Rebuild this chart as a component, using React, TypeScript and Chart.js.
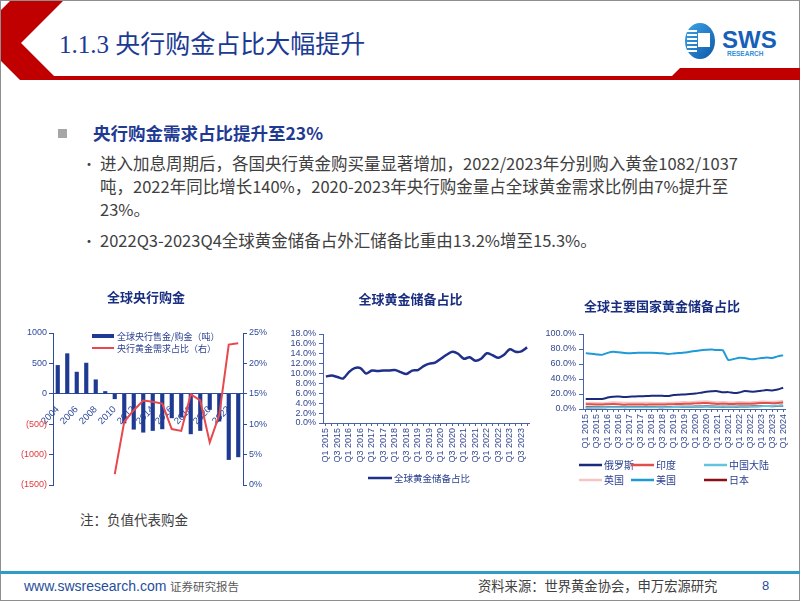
import React, { useEffect, useRef } from 'react';
import { Chart, registerables } from 'chart.js';

Chart.register(...registerables);

const FONT_CJK = '"Noto Sans CJK SC", "Liberation Sans", sans-serif';
const FONT_AX = '"Liberation Sans", "Noto Sans CJK SC", sans-serif';

// ---------- Chart 1: 全球央行购金 ----------
const years = ['2004', '2005', '2006', '2007', '2008', '2009', '2010', '2011', '2012', '2013', '2014', '2015', '2016', '2017', '2018', '2019', '2020', '2021', '2022', '2023'];
const cbNetSalesTonnes = [467, 660, 357, 505, 231, 38, -82, -481, -583, -632, -604, -577, -396, -385, -659, -604, -258, -450, -1082, -1037];
const cbShareOfDemand = [null, null, null, null, null, null, 0.018, 0.104, 0.123, 0.139, 0.137, 0.134, 0.092, 0.089, 0.149, 0.139, 0.07, 0.115, 0.231, 0.233];

// ---------- Chart 2: 全球黄金储备占比 ----------
function quarterLabels(startYear: number, count: number) {
  const out: string[] = [];
  for (let i = 0; i < count; i++) out.push(`Q${(i % 4) + 1} ${startYear + Math.floor(i / 4)}`);
  return out;
}
const quarters2 = quarterLabels(2015, 36); // Q1 2015 .. Q4 2023
const goldShareOfReserves = [9.4, 9.6, 9.3, 9.0, 10.3, 11.1, 11.1, 10.0, 10.6, 10.5, 10.6, 10.6, 10.7, 10.3, 9.9, 10.6, 10.7, 11.5, 12.0, 12.2, 13.0, 13.8, 14.4, 14.0, 13.0, 13.3, 12.6, 13.0, 14.1, 13.7, 13.2, 13.8, 14.9, 14.4, 14.5, 15.3];

// ---------- Chart 3: 全球主要国家黄金储备占比 ----------
const quarters3 = quarterLabels(2015, 37); // Q1 2015 .. Q1 2024
const russia = [13.3, 13.2, 13.2, 13.3, 15.2, 16.4, 16.6, 16.0, 16.3, 16.8, 16.9, 17.2, 17.6, 17.8, 17.6, 17.3, 18.6, 19.0, 19.4, 19.9, 20.6, 21.8, 23.0, 23.6, 23.8, 22.2, 22.5, 21.3, 22.0, 24.0, 23.2, 23.3, 24.3, 25.2, 24.8, 25.9, 28.4];
const india = [6.2, 6.3, 6.1, 5.9, 6.4, 6.6, 6.4, 5.8, 5.9, 6.0, 5.9, 5.8, 5.9, 6.0, 6.0, 6.2, 6.4, 6.7, 6.9, 7.0, 7.5, 7.8, 8.1, 7.3, 6.7, 7.0, 6.8, 6.7, 7.1, 7.1, 7.0, 7.4, 7.9, 7.9, 7.8, 8.1, 8.6];
const chinaMainland = [1.7, 1.8, 2.0, 2.2, 2.3, 2.4, 2.4, 2.3, 2.3, 2.3, 2.3, 2.3, 2.3, 2.3, 2.3, 2.4, 2.6, 2.8, 2.9, 2.9, 3.2, 3.3, 3.5, 3.3, 3.1, 3.2, 3.1, 3.1, 3.3, 3.3, 3.4, 3.5, 3.8, 4.0, 4.1, 4.3, 4.6];
const uk = [8.0, 8.2, 8.0, 7.7, 8.4, 8.9, 8.8, 8.2, 8.2, 8.3, 8.3, 8.2, 8.2, 8.1, 7.9, 8.3, 8.5, 8.8, 9.2, 9.1, 9.7, 10.0, 10.3, 9.6, 9.0, 9.2, 8.8, 8.8, 9.3, 9.0, 8.8, 9.3, 9.9, 9.8, 9.7, 10.1, 10.6];
const usa = [74.5, 73.6, 72.8, 72.2, 74.8, 76.3, 75.6, 74.6, 74.4, 74.8, 75.0, 75.0, 75.1, 74.8, 74.2, 73.4, 74.0, 74.6, 75.2, 76.3, 77.4, 78.4, 78.9, 79.2, 78.6, 78.2, 65.3, 66.6, 68.3, 68.0, 66.5, 66.8, 67.9, 68.8, 68.1, 70.2, 71.5];
const japan = [2.4, 2.4, 2.3, 2.3, 2.6, 2.8, 2.7, 2.5, 2.6, 2.6, 2.6, 2.6, 2.6, 2.5, 2.5, 2.6, 2.8, 2.9, 3.0, 3.0, 3.3, 3.4, 3.6, 3.3, 3.0, 3.1, 3.0, 3.0, 3.3, 3.4, 3.5, 3.6, 3.9, 3.9, 3.8, 4.1, 4.4];

const NAVY = '#1F3A93';
const AXIS_BLUE = '#2F4C9C';
const NEG_RED = '#E0393E';
const TITLE_NAVY = '#1A2E80';

// legend drawn at fixed spots, columns aligned like the original
const fixedLegend = {
  id: 'fixedLegend',
  afterDraw(chart: any, _args: any, opts: any) {
    if (!opts || !opts.display) return;
    const ctx = chart.ctx;
    ctx.save();
    ctx.font = `${opts.fontSize}px ${FONT_CJK}`;
    ctx.textBaseline = 'middle';
    ctx.textAlign = 'left';
    chart.data.datasets.forEach((ds: any, i: number) => {
      const col = i % opts.cols;
      const row = Math.floor(i / opts.cols);
      const x = opts.colX[col];
      const y = opts.y + row * opts.rowH;
      if (ds.type === 'bar') {
        ctx.fillStyle = ds.backgroundColor;
        ctx.fillRect(x, y - opts.boxH / 2, opts.swatchW, opts.boxH);
      } else {
        ctx.strokeStyle = ds.borderColor;
        ctx.lineWidth = opts.lineW;
        ctx.beginPath();
        ctx.moveTo(x, y);
        ctx.lineTo(x + opts.swatchW, y);
        ctx.stroke();
      }
      ctx.fillStyle = opts.color;
      ctx.fillText(ds.label, x + opts.swatchW + opts.gap, y + 0.5);
    });
    ctx.restore();
  },
};

function chart1Config(): any {
  return {
    type: 'bar',
    data: {
      labels: years,
      datasets: [
        { type: 'bar', label: '全球央行售金/购金（吨）', data: cbNetSalesTonnes, backgroundColor: NAVY, barThickness: 3.5, yAxisID: 'y', order: 2 },
        { type: 'line', label: '央行黄金需求占比（右）', data: cbShareOfDemand, borderColor: '#E8484D', backgroundColor: '#E8484D', borderWidth: 2, pointRadius: 0, yAxisID: 'y1', order: 1, tension: 0 },
      ],
    },
    options: {
      responsive: false,
      animation: false,
      layout: { padding: { top: 0, left: 0, right: 0, bottom: 13 } },
      plugins: {
        legend: { display: false },
        tooltip: { enabled: false },
        title: { display: true, text: '全球央行购金', color: TITLE_NAVY, font: { size: 13, weight: 'bold', family: FONT_CJK }, padding: { top: 6, bottom: 28.4 } },
        fixedLegend: { display: true, cols: 1, colX: [77], y: 53, rowH: 12, swatchW: 22, boxH: 4, lineW: 2, gap: 3, fontSize: 9, color: '#2A3F8F' },
      },
      scales: {
        x: {
          position: { y: 0 },
          offset: true,
          grid: { display: false },
          border: { display: true, color: AXIS_BLUE },
          ticks: {
            autoSkip: false, minRotation: 45, maxRotation: 45, color: AXIS_BLUE, padding: 2,
            font: { size: 9.5, family: FONT_AX },
            callback: (_v: any, i: number) => (i % 2 === 0 ? years[i] : ''),
          },
        },
        y: {
          position: 'left', min: -1500, max: 1000,
          ticks: {
            stepSize: 500, padding: 2, autoSkip: false, font: { size: 9, family: FONT_AX },
            callback: (v: number) => (v < 0 ? `(${-v})` : `${v}`),
            color: (c: any) => (c.tick && c.tick.value < 0 ? NEG_RED : AXIS_BLUE),
          },
          grid: { display: true, drawOnChartArea: false, color: AXIS_BLUE, tickLength: 4 },
          border: { display: true, color: AXIS_BLUE },
          afterFit: (s: any) => { s.width = 38; },
        },
        y1: {
          position: 'right', min: 0, max: 0.25,
          ticks: { stepSize: 0.05, padding: 2, autoSkip: false, color: AXIS_BLUE, font: { size: 9, family: FONT_AX }, callback: (v: number) => `${Math.round(v * 100)}%` },
          grid: { display: true, drawOnChartArea: false, color: AXIS_BLUE, tickLength: 4 },
          border: { display: true, color: AXIS_BLUE },
          afterFit: (s: any) => { s.width = 34; },
        },
      },
    },
    plugins: [fixedLegend],
  };
}

const lineAxisX = (labels: string[], height: number) => ({
  offset: true,
  grid: { display: true, drawOnChartArea: false, color: '#4A64A8', tickLength: 3 },
  border: { display: true, color: '#4A64A8' },
  ticks: {
    autoSkip: false, minRotation: 90, maxRotation: 90, color: '#33478F', padding: 2,
    font: { size: 9, family: FONT_AX },
    callback: (_v: any, i: number) => (i % 2 === 0 ? labels[i] : ''),
  },
  afterFit: (s: any) => { s.height = height; },
});

function chart2Config(): any {
  return {
    type: 'line',
    data: {
      labels: quarters2,
      datasets: [
        { label: '全球黄金储备占比', data: goldShareOfReserves, borderColor: '#1F2F8A', backgroundColor: '#1F2F8A', borderWidth: 2.5, pointRadius: 0, tension: 0.3 },
      ],
    },
    options: {
      responsive: false,
      animation: false,
      layout: { padding: { top: 0, left: 5, right: 7, bottom: 28 } },
      plugins: {
        legend: { display: false },
        tooltip: { enabled: false },
        title: { display: true, text: '全球黄金储备占比', color: TITLE_NAVY, font: { size: 13, weight: 'bold', family: FONT_CJK }, padding: { top: 8, bottom: 27.4 } },
        fixedLegend: { display: true, cols: 1, colX: [85], y: 195, rowH: 14, swatchW: 24, boxH: 4, lineW: 2.5, gap: 2, fontSize: 9.5, color: '#2A3F8F' },
      },
      scales: {
        x: lineAxisX(quarters2, 47),
        y: {
          min: 0, max: 18,
          ticks: { stepSize: 2, autoSkip: false, padding: 3, color: '#33478F', font: { size: 9, family: FONT_AX }, callback: (v: number) => `${v.toFixed(1)}%` },
          grid: { display: true, drawOnChartArea: false, color: '#4A64A8', tickLength: 4 },
          border: { display: true, color: '#4A64A8' },
          afterFit: (s: any) => { s.width = 35; },
        },
      },
    },
    plugins: [fixedLegend],
  };
}

function chart3Config(): any {
  const ds = (label: string, data: number[], color: string) => ({ label, data, borderColor: color, backgroundColor: color, borderWidth: 2, pointRadius: 0, tension: 0.2 });
  return {
    type: 'line',
    data: {
      labels: quarters3,
      datasets: [
        ds('俄罗斯', russia, '#1C2A7A'),
        ds('印度', india, '#E0504A'),
        ds('中国大陆', chinaMainland, '#63C5DD'),
        ds('英国', uk, '#F6C4C4'),
        ds('美国', usa, '#1E9AD6'),
        ds('日本', japan, '#8B0F14'),
      ],
    },
    options: {
      responsive: false,
      animation: false,
      layout: { padding: { top: 0, left: 0, right: 6, bottom: 41 } },
      plugins: {
        legend: { display: false },
        tooltip: { enabled: false },
        title: { display: true, text: '全球主要国家黄金储备占比', color: TITLE_NAVY, font: { size: 13, weight: 'bold', family: FONT_CJK }, padding: { top: 15, bottom: 20.4 } },
        fixedLegend: { display: true, cols: 3, colX: [45, 97, 170], y: 182, rowH: 15, swatchW: 23, boxH: 4, lineW: 2.5, gap: 2, fontSize: 10, color: '#2A3F8F' },
      },
      scales: {
        x: lineAxisX(quarters3, 48),
        y: {
          min: 0, max: 100,
          ticks: { stepSize: 20, autoSkip: false, padding: 3, color: '#33478F', font: { size: 9, family: FONT_AX }, callback: (v: number) => `${v.toFixed(1)}%` },
          grid: { display: true, drawOnChartArea: false, color: '#4A64A8', tickLength: 4 },
          border: { display: true, color: '#4A64A8' },
          afterFit: (s: any) => { s.width = 49; },
        },
      },
    },
    plugins: [fixedLegend],
  };
}

function ChartBox({ make, left, top, width, height }: { make: () => any; left: number; top: number; width: number; height: number }) {
  const ref = useRef<HTMLCanvasElement>(null);
  useEffect(() => {
    const chart = new Chart(ref.current as HTMLCanvasElement, make());
    return () => chart.destroy();
  }, []);
  return (
    <canvas ref={ref} width={width} height={height} style={{ position: 'absolute', left, top, width, height, display: 'block' }} />
  );
}

const textLine = (top: number, left: number, size: number, color: string, extra: React.CSSProperties = {}): React.CSSProperties => ({
  position: 'absolute', left, top, fontSize: size, color, fontFamily: FONT_CJK, whiteSpace: 'nowrap', lineHeight: '20px', ...extra,
});

export default function App() {
  return (
    <div style={{ position: 'absolute', left: 0, top: 0, width: 802, height: 602, background: '#ffffff', overflow: 'hidden' }}>
      {/* slide frame */}
      <div style={{ position: 'absolute', left: 0, top: 0, width: 798, height: 599, border: '1px solid #8f8f8f' }} />
      {/* red chevron + header band */}
      <svg width={802} height={90} style={{ position: 'absolute', left: 0, top: 0 }}>
        <polygon points="10,1 63,1 21,43 54,76 672,76 680,68 800,68 800,80 20,80 1,61 1,10" fill="#C00000" />
      </svg>
      {/* title */}
      <div style={textLine(30, 59, 25, '#1B3A93', { lineHeight: '30px', fontFamily: '"Liberation Serif", "Noto Sans CJK SC", serif' })}>1.1.3 央行购金占比大幅提升</div>
      {/* logo */}
      <svg width={110} height={50} style={{ position: 'absolute', left: 683, top: 18 }}>
        <defs>
          <linearGradient id="lg" x1="0" y1="0" x2="1" y2="1">
            <stop offset="0" stopColor="#3FA6E8" />
            <stop offset="1" stopColor="#0D56A8" />
          </linearGradient>
        </defs>
        <ellipse cx={17} cy={23} rx={15} ry={18} fill="url(#lg)" />
        {[0, 1, 2, 3, 4, 5].map((k) => (
          <rect key={k} x={4} y={12 + k * 4} width={10} height={2} fill="#ffffff" />
        ))}
        <rect x={15} y={15} width={12} height={14} fill="#ffffff" />
        <text x={39} y={30} fontFamily='"Liberation Sans", sans-serif' fontWeight="bold" fontSize={24} fill="#1760B8">SWS</text>
        <text x={44} y={38} fontFamily='"Liberation Sans", sans-serif' fontWeight="bold" fontSize={6.5} fill="#2E8FD8">RESEARCH</text>
      </svg>

      {/* heading */}
      <div style={{ position: 'absolute', left: 58, top: 129, width: 9, height: 9, background: '#A6A6A6' }} />
      <div style={textLine(123, 93, 17.5, '#1F3A93', { fontWeight: 'bold' })}>央行购金需求占比提升至23%</div>

      {/* bullets */}
      <div style={textLine(153, 82, 14, '#404040')}>•</div>
      <div style={textLine(153, 100, 16.5, '#404040')}>进入加息周期后，各国央行黄金购买量显著增加，2022/2023年分别购入黄金1082/1037</div>
      <div style={textLine(176, 100, 16.5, '#404040')}>吨，2022年同比增长140%，2020-2023年央行购金量占全球黄金需求比例由7%提升至</div>
      <div style={textLine(199, 100, 16.5, '#404040')}>23%。</div>
      <div style={textLine(230, 82, 14, '#404040')}>•</div>
      <div style={textLine(230, 100, 16.5, '#404040')}>2022Q3-2023Q4全球黄金储备占外汇储备比重由13.2%增至15.3%。</div>

      {/* charts */}
      <ChartBox make={chart1Config} left={15} top={283} width={262} height={215} />
      <ChartBox make={chart2Config} left={283} top={283} width={257} height={215} />
      <ChartBox make={chart3Config} left={534} top={283} width={262} height={215} />

      {/* note */}
      <div style={textLine(509, 80, 13.5, '#404040')}>注：负值代表购金</div>

      {/* footer */}
      <div style={{ position: 'absolute', left: 0, top: 571, width: 800, height: 3, background: '#2E9BCB' }} />
      <div style={textLine(576, 24, 14, '#1F4E9C', { fontFamily: FONT_AX })}>www.swsresearch.com</div>
      <div style={textLine(576, 170, 11.5, '#595959')}>证券研究报告</div>
      <div style={textLine(576, 478, 13.3, '#404040')}>资料来源：世界黄金协会，申万宏源研究</div>
      <div style={textLine(576, 762, 13, '#1F4E9C', { fontFamily: FONT_AX })}>8</div>
    </div>
  );
}
